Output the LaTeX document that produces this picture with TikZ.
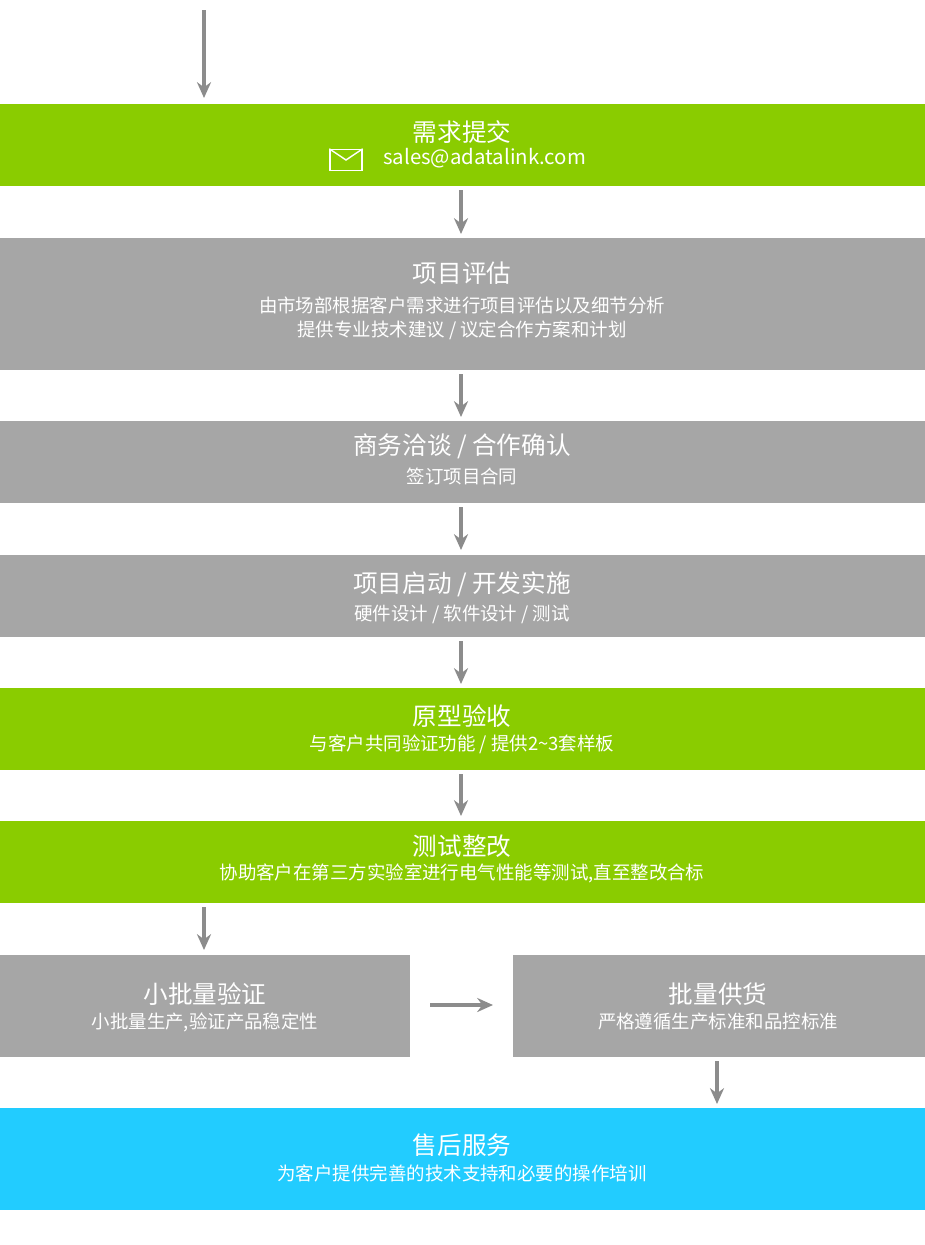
\documentclass[tikz,border=0pt]{standalone}
\usepackage{fontspec}
\setmainfont{Noto Sans CJK SC}
\usetikzlibrary{arrows.meta, positioning, calc}
\definecolor{stepgreen}{HTML}{8ACC00}
\definecolor{stepgray}{HTML}{A6A6A6}
\definecolor{stepblue}{HTML}{22CCFF}
\definecolor{arrowgray}{HTML}{8C8C8C}

\begin{document}
\begin{tikzpicture}[x=0.02cm, y=-0.02cm, >={Stealth[length=9pt,width=8pt]},
  title/.style={text=white, font=\fontsize{14}{16}\selectfont},
  sub/.style={text=white, font=\fontsize{10.5}{13.5}\selectfont, align=center},
  flow/.style={->, draw=arrowgray, line width=1.8pt}]
  \useasboundingbox (0,0) rectangle (925,1245);

  % bands
  \fill[stepgreen] (0,104) rectangle (925,186);
  \fill[stepgray]  (0,238) rectangle (925,370);
  \fill[stepgray]  (0,421) rectangle (925,503);
  \fill[stepgray]  (0,555) rectangle (925,637);
  \fill[stepgreen] (0,688) rectangle (925,770);
  \fill[stepgreen] (0,821) rectangle (925,903);
  \fill[stepgray]  (0,955) rectangle (410,1057);
  \fill[stepgray]  (513,955) rectangle (925,1057);
  \fill[stepblue]  (0,1108) rectangle (925,1210);

  % texts
  \node[title] (t1) at (462,132) {需求提交};
  \node[text=white, font=\fontsize{11.6}{13}\selectfont, anchor=west, inner sep=0pt] (mail) at (383,158) {sales@adatalink.com};
  \node[draw=white, line width=0.8pt, minimum width=0.64cm, minimum height=0.42cm, inner sep=0pt] (env) at (346,160) {};
  \draw[white, line width=0.8pt] (env.north west) -- (env.center) -- (env.north east);

  \node[title] (t2) at (462,273) {项目评估};
  \node[sub] (s2) at (462,318) {由市场部根据客户需求进行项目评估以及细节分析\\提供专业技术建议 / 议定合作方案和计划};

  \node[title] (t3) at (462,446) {商务洽谈 / 合作确认};
  \node[sub] (s3) at (462,476) {签订项目合同};

  \node[title] (t4) at (462,584) {项目启动 / 开发实施};
  \node[sub] (s4) at (462,614) {硬件设计 / 软件设计 / 测试};

  \node[title] (t5) at (462,716) {原型验收};
  \node[sub] (s5) at (462,744) {与客户共同验证功能 / 提供2\textasciitilde3套样板};

  \node[title] (t6) at (462,846) {测试整改};
  \node[sub] (s6) at (462,873) {协助客户在第三方实验室进行电气性能等测试,直至整改合标};

  \node[title] (t7) at (205,994) {小批量验证};
  \node[sub] (s7) at (205,1022) {小批量生产,验证产品稳定性};

  \node[title] (t8) at (718,994) {批量供货};
  \node[sub] (s8) at (718,1022) {严格遵循生产标准和品控标准};

  \node[title] (t9) at (462,1145) {售后服务};
  \node[sub] (s9) at (462,1173) {为客户提供完善的技术支持和必要的操作培训};

  % arrows
  \coordinate (a0) at (204,10);  \coordinate (b0) at (204,98);
  \draw[flow] (a0) -- (b0);
  \foreach \ya/\yb in {190/234, 374/417, 507/550, 641/684, 774/816} {
    \draw[flow] (461,\ya) -- (461,\yb);
  }
  \draw[flow] (204,907) -- (204,950);
  \draw[flow] (430,1005) -- (493,1005);
  \draw[flow] (717,1061) -- (717,1104);
\end{tikzpicture}
\end{document}
